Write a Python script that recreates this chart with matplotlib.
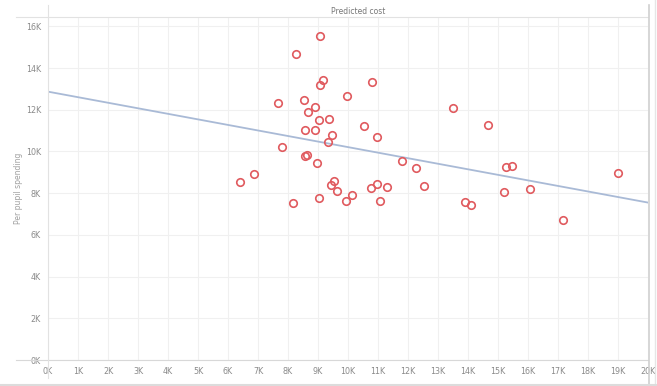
import matplotlib
matplotlib.use("Agg")
import matplotlib.pyplot as plt
from matplotlib.lines import Line2D
from matplotlib.ticker import FuncFormatter, MultipleLocator

# Predicted cost (x) vs per pupil spending (y)
predicted_cost = [9080, 8280, 9170, 9060, 7680, 8530, 8900, 8680, 9970, 9030,
                  9370, 8550, 8890, 9470, 9320, 7800, 8550, 8620, 8950, 6880,
                  6390, 9520, 9430, 9630, 9030, 8160, 9920, 10140, 10770, 10980,
                  11300, 11070, 10530, 10970, 13510, 14660, 11790, 12250, 12530, 15250,
                  15480, 15200, 16050, 13910, 14100, 17160, 18990, 10800]
per_pupil = [15540, 14690, 13410, 13170, 12310, 12480, 12130, 11910, 12680, 11510,
             11570, 11050, 11010, 10810, 10470, 10220, 9800, 9830, 9450, 8900,
             8550, 8590, 8380, 8110, 7750, 7510, 7630, 7910, 8230, 8460,
             8280, 7610, 11240, 10700, 12100, 11270, 9520, 9190, 8360, 9260,
             9290, 8070, 8180, 7560, 7430, 6730, 8980, 13350]
trend_x = [0, 20000]
trend_y = [12870, 7550]

W, H = 657, 386
fig = plt.figure(figsize=(W / 100, H / 100), dpi=100)
ax = fig.add_axes([48 / W, (H - 360) / H, 600 / W, 343 / H])

ax.set_xlim(0, 20000)
ax.set_ylim(0, 16450)
ax.xaxis.set_major_locator(MultipleLocator(1000))
ax.yaxis.set_major_locator(MultipleLocator(2000))
fmt = FuncFormatter(lambda v, p: f"{int(round(v / 1000))}K")
ax.xaxis.set_major_formatter(fmt)
ax.yaxis.set_major_formatter(fmt)
ax.grid(True, color="#f0f0f0", linewidth=0.8)
ax.set_axisbelow(True)
for s in ax.spines.values():
    s.set_visible(False)
ax.tick_params(length=0, labelsize=5.8, labelcolor="#8a8a8a", pad=5)

ax.plot(trend_x, trend_y, color="#a9bad6", linewidth=1.3, zorder=2)
ax.plot(predicted_cost, per_pupil, linestyle="none", marker="o", markersize=5.4,
        markerfacecolor="none", markeredgecolor="#e05a5e", markeredgewidth=1.2, zorder=3)

ax.set_ylabel("Per pupil spending", fontsize=5.5, color="#a0a0a0", labelpad=2)

# frame lines (Tableau style)
def hline(y, x0, x1, c="#e2e2e2", lw=0.8):
    fig.add_artist(Line2D([x0 / W, x1 / W], [1 - y / H, 1 - y / H], color=c, lw=lw))

def vline(x, y0, y1, c="#e2e2e2", lw=0.8):
    fig.add_artist(Line2D([x / W, x / W], [1 - y0 / H, 1 - y1 / H], color=c, lw=lw))

hline(17, 16, 648)
hline(360, 16, 648, c="#d8d8d8")
vline(48, 5, 378)
vline(648.5, 5, 386, c="#d0d0d0", lw=1.2)
vline(655, 0, 386, c="#e6e6e6", lw=1.0)
hline(384.5, 0, 657, c="#dcdcdc", lw=1.5)

fig.text(358 / W, 1 - 11 / H, "Predicted cost", fontsize=5.5, color="#777777",
         ha="center", va="center")

fig.savefig("out.png", dpi=100, facecolor="white")
